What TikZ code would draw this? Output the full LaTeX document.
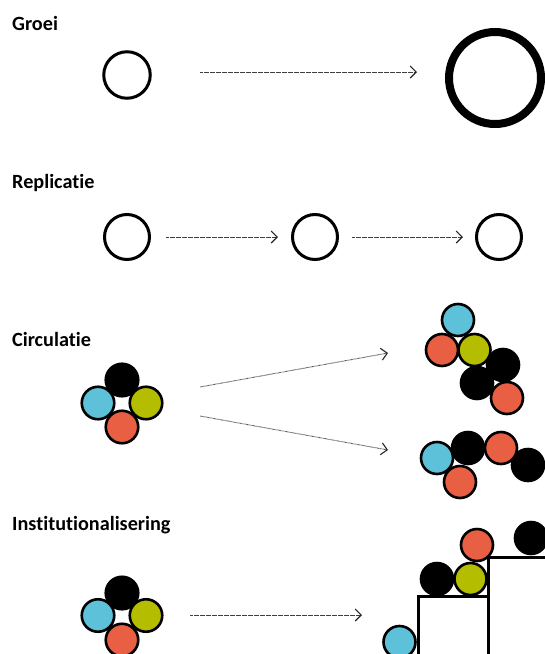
\documentclass[tikz,border=0pt]{standalone}
\usepackage{fontspec}
\setmainfont{Carlito}[Ligatures={NoCommon}, RawFeature={-liga;-clig;-dlig}]
\usetikzlibrary{arrows.meta}
\definecolor{cy}{HTML}{5EC1DA}
\definecolor{rd}{HTML}{E85F44}
\definecolor{ol}{HTML}{B5BD00}
\begin{document}
\begin{tikzpicture}[x=1pt,y=-1pt,
  lbl/.style={anchor=base west, inner sep=0, font=\bfseries\fontsize{20.2}{24}\selectfont},
  ring/.style={circle, draw=black, line width=3pt, minimum size=45pt, inner sep=0},
  ball/.style={circle, draw=black, line width=2.6pt, minimum size=32pt, inner sep=0},
  bk/.style={ball, fill=black},
  cb/.style={ball, fill=cy},
  rb/.style={ball, fill=rd},
  ob/.style={ball, fill=ol},
  arr/.style={draw=black!75, line width=0.9pt, dash pattern=on 0.6pt off 0.6pt,
    -{Straight Barb[length=6pt,width=12pt,line width=1.1pt,color=black!85]}},
  stepline/.style={draw=black, line width=2.5pt}
]
\useasboundingbox (0,0) rectangle (545,654);

% ---------- Groei ----------
\node[lbl] (tg) at (12,30) {Groei};
\node[ring, line width=3pt, minimum size=46.5pt] (g1) at (127,75) {};
\node[ring, line width=8pt, minimum size=92pt] (g2) at (495,78) {};
\coordinate (ga1) at (200,72);
\coordinate (ga2) at (417,72);
\draw[arr] (ga1) -- (ga2);

% ---------- Replicatie ----------
\node[lbl] (tr) at (12,188) {Replicatie};
\node[ring] (r1) at (127,237) {};
\node[ring] (r2) at (315,237) {};
\node[ring] (r3) at (499,237) {};
\coordinate (ra1) at (166,237);
\coordinate (ra2) at (278,237);
\coordinate (ra3) at (352,237);
\coordinate (ra4) at (463,237);
\draw[arr] (ra1) -- (ra2);
\draw[arr] (ra3) -- (ra4);

% ---------- Circulatie ----------
\node[lbl] (tc) at (12,346) {Circulatie};
\node[bk, minimum size=32.5pt] (c1k) at (122,380) {};
\node[cb, minimum size=32.5pt] (c1c) at (98,403) {};
\node[ob, minimum size=32.5pt] (c1o) at (146,403) {};
\node[rb, minimum size=32.5pt] (c1r) at (122,427) {};
\coordinate (ca1) at (200,387);
\coordinate (ca2) at (388,353);
\coordinate (ca3) at (200,416);
\coordinate (ca4) at (388,450);
\draw[arr] (ca1) -- (ca2);
\draw[arr] (ca3) -- (ca4);
% upper right cluster
\node[bk] (u1) at (503,365) {};
\node[bk] (u2) at (477,383) {};
\node[cb] (u3) at (458,320) {};
\node[rb] (u4) at (442,350) {};
\node[ob] (u5) at (474.5,350) {};
\node[rb] (u6) at (507,398) {};
% lower right cluster
\node[bk] (d1) at (468,448) {};
\node[bk] (d2) at (528,465) {};
\node[cb] (d3) at (437,458) {};
\node[rb] (d4) at (501,448) {};
\node[rb] (d5) at (460,482) {};

% ---------- Institutionalisering ----------
\node[lbl] (ti) at (12,530) {Institutionalisering};
\node[bk, minimum size=32.5pt] (i1k) at (122,593) {};
\node[cb, minimum size=32.5pt] (i1c) at (98,615.5) {};
\node[ob, minimum size=32.5pt] (i1o) at (146,615.5) {};
\node[rb, minimum size=32.5pt] (i1r) at (122,640) {};
\coordinate (ia1) at (190,615);
\coordinate (ia2) at (362,615);
\draw[arr] (ia1) -- (ia2);
% steps
\draw[stepline] (418.3,655) -- (418.3,596.7) -- (488.3,596.7);
\draw[stepline] (488.3,655) -- (488.3,557.3) -- (546,557.3);
\node[cb] (s1) at (399.5,642) {};
\node[bk] (s2) at (437,579) {};
\node[ob] (s3) at (470.5,579) {};
\node[rb] (s4) at (477,545) {};
\node[bk] (s5) at (531,538) {};
\end{tikzpicture}
\end{document}
